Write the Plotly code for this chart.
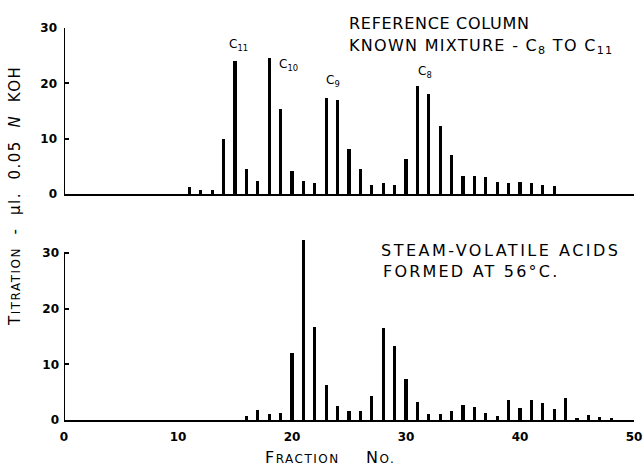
import plotly.graph_objects as go

# ---- data ----
top_fraction = list(range(11, 44))
top_values = [1.2, 0.7, 0.8, 10.0, 24.0, 4.5, 2.3, 24.5, 15.3, 4.1,
              2.3, 1.9, 17.3, 17.0, 8.2, 4.5, 1.6, 1.9, 1.7, 6.3,
              19.5, 18.0, 12.3, 7.0, 3.3, 3.3, 3.0, 2.2, 2.0, 2.1,
              2.0, 1.6, 1.5]

bottom_fraction = list(range(16, 49))
bottom_values = [0.6, 1.8, 1.0, 1.3, 12.0, 32.3, 16.7, 6.2, 2.4, 1.6,
                 1.5, 4.3, 16.5, 13.2, 7.3, 3.2, 1.0, 1.1, 1.6, 2.7,
                 2.3, 1.2, 0.6, 3.6, 2.1, 3.6, 3.1, 2.0, 3.9, 0.3,
                 0.8, 0.5, 0.3]

peak_labels = ["C<sub>11</sub>", "C<sub>10</sub>", "C<sub>9</sub>", "C<sub>8</sub>"]
peak_label_x = [15.3, 19.7, 23.6, 31.7]
peak_label_y = [26.9, 23.4, 20.5, 22.0]

x_ticks = [0, 10, 20, 30, 40, 50]
y_ticks = [0, 10, 20, 30]

# ---- layout geometry ----
W, H = 644, 466
L, R, T, B = 64, 10, 20, 40
PW, PH = W - L - R, H - T - B

def px2x(p):
    return (p - L) / PW

def py2y(p):
    return (T + PH - p) / PH

def spaced(text, px):
    return f"<span style='letter-spacing:{px}px'>{text}</span>"

FONT = "DejaVu Sans"
INK = "black"

fig = go.Figure()
fig.add_trace(go.Bar(x=top_fraction, y=top_values, width=0.27,
                     marker=dict(color=INK, line=dict(width=0)),
                     xaxis="x", yaxis="y", showlegend=False))
fig.add_trace(go.Bar(x=bottom_fraction, y=bottom_values, width=0.27,
                     marker=dict(color=INK, line=dict(width=0)),
                     xaxis="x2", yaxis="y2", showlegend=False))

axis_common = dict(showgrid=False, zeroline=False, automargin=False)
tick_font = dict(size=12, family=FONT, color=INK, weight="bold")
fig.update_layout(
    width=W, height=H,
    margin=dict(l=L, r=R, t=T, b=B),
    paper_bgcolor="white", plot_bgcolor="white",
    font=dict(family=FONT, color=INK),
    bargap=0,
    xaxis=dict(domain=[0, 1], range=[0, 50], anchor="y", showline=True,
               linecolor=INK, linewidth=2, showticklabels=False, ticks="",
               **axis_common),
    xaxis2=dict(domain=[0, 1], range=[0, 50], anchor="y2", showline=True,
                linecolor=INK, linewidth=2, tickvals=x_ticks, ticks="",
                tickfont=tick_font, ticklabelstandoff=5,
                **axis_common),
    yaxis=dict(domain=[py2y(194), py2y(28)], range=[0, 30], anchor="x",
               showline=False, tickvals=y_ticks, ticks="inside", ticklen=5,
               tickwidth=1.5, tickcolor=INK, tickfont=tick_font,
               ticklabelstandoff=6,
               **axis_common),
    yaxis2=dict(domain=[py2y(420), py2y(420 - 33 * 5.57)], range=[0, 33], anchor="x2",
                showline=False, tickvals=y_ticks, ticks="inside", ticklen=5,
                tickwidth=1.5, tickcolor=INK, tickfont=tick_font,
                ticklabelstandoff=4,
                **axis_common),
)

# vertical axis lines from 0 to 30 only
fig.add_shape(type="line", xref="x", yref="y", x0=0, x1=0, y0=0, y1=30,
              line=dict(color=INK, width=2))
fig.add_shape(type="line", xref="x2", yref="y2", x0=0, x1=0, y0=0, y1=30,
              line=dict(color=INK, width=2))

# peak labels
for t, xv, yv in zip(peak_labels, peak_label_x, peak_label_y):
    fig.add_annotation(text=t, x=xv, y=yv, xref="x", yref="y", showarrow=False,
                       font=dict(size=12, family=FONT, color=INK))

# panel texts
panel_font = dict(size=16, family=FONT, color=INK)
fig.add_annotation(text=spaced("REFERENCE COLUMN", 0.7), x=px2x(347), y=py2y(23),
                   xref="paper", yref="paper", xanchor="left", yanchor="middle",
                   showarrow=False, font=panel_font)
fig.add_annotation(text=spaced("KNOWN MIXTURE - C<sub>8</sub> TO C<sub>11</sub>", 1.3),
                   x=px2x(347), y=py2y(47),
                   xref="paper", yref="paper", xanchor="left", yanchor="middle",
                   showarrow=False, font=panel_font)
fig.add_annotation(text=spaced("STEAM-VOLATILE ACIDS", 2.5), x=px2x(379), y=py2y(250),
                   xref="paper", yref="paper", xanchor="left", yanchor="middle",
                   showarrow=False, font=panel_font)
fig.add_annotation(text=spaced("FORMED AT 56°C.", 2.2), x=px2x(381), y=py2y(271),
                   xref="paper", yref="paper", xanchor="left", yanchor="middle",
                   showarrow=False, font=panel_font)

# axis titles
fig.add_annotation(text=spaced("F<span style='font-size:12px'>RACTION</span>&nbsp;&nbsp;&nbsp;&nbsp;N<span style='font-size:12px'>O.</span>", 1.5),
                   x=px2x(330), y=py2y(457), xref="paper", yref="paper",
                   xanchor="center", yanchor="middle", showarrow=False,
                   font=dict(size=16, family=FONT, color=INK))
fig.add_annotation(text=spaced("T<span style='font-size:12px'>ITRATION</span>&nbsp;&nbsp;-&nbsp;&nbsp;µl.&nbsp;&nbsp;0.05&nbsp;&nbsp;<i>N</i>&nbsp;&nbsp;KOH", 1.5),
                   x=px2x(15), y=py2y(196), xref="paper", yref="paper",
                   xanchor="center", yanchor="middle", textangle=-90, showarrow=False,
                   font=dict(size=15, family=FONT, color=INK))

fig.write_html("out.html", config={"displayModeBar": False},
               post_script="document.body.style.margin='0px';")
